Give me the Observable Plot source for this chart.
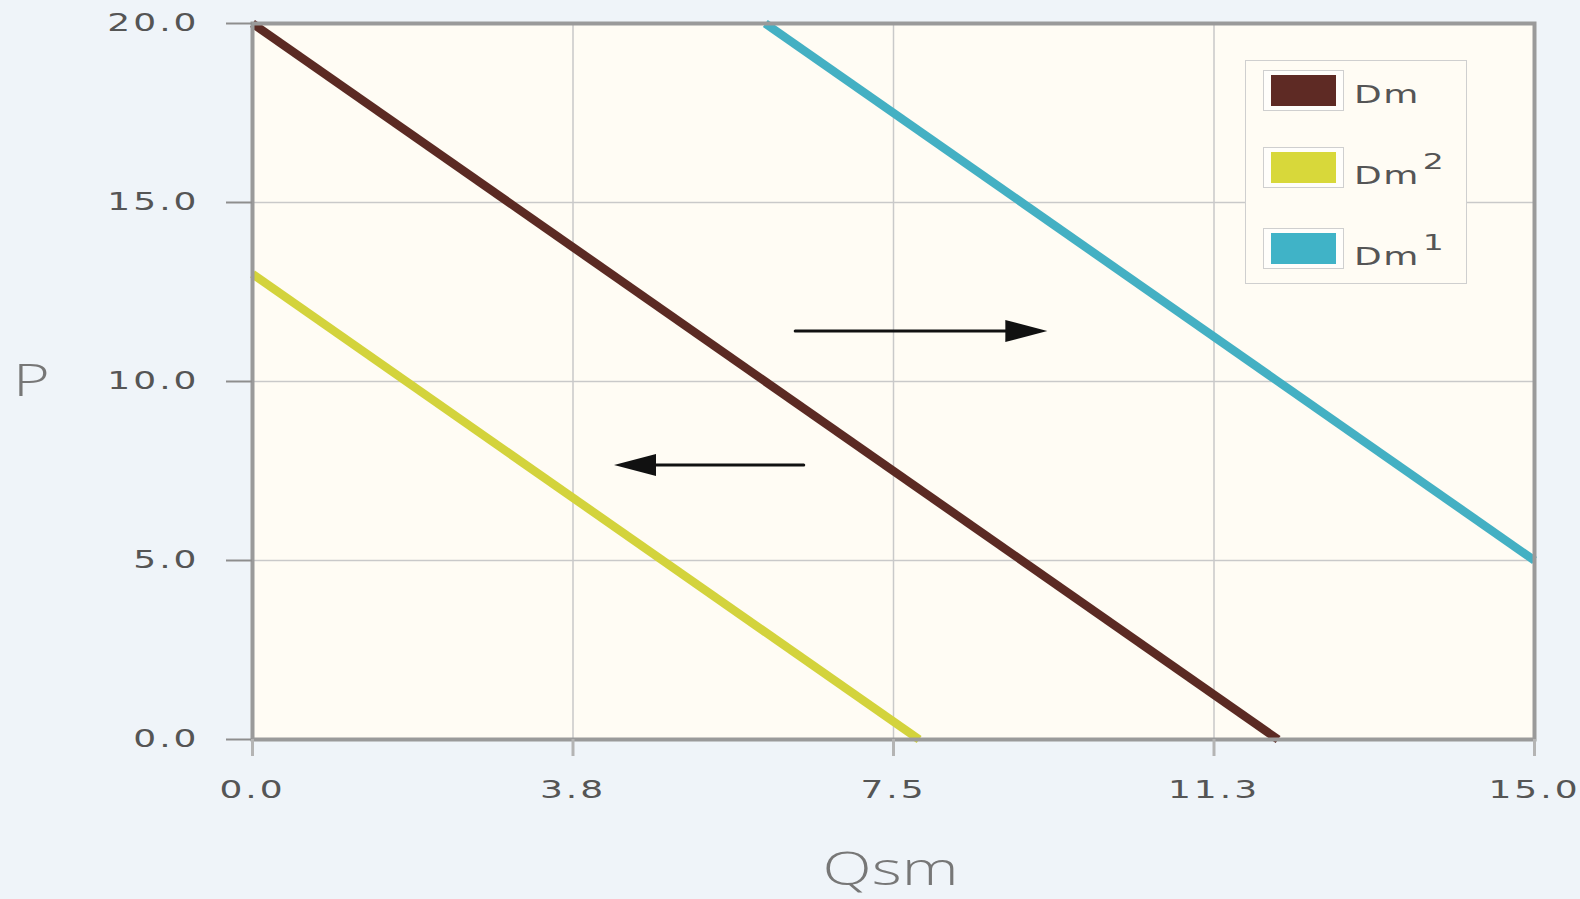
<!DOCTYPE html>
<html>
<head>
<meta charset="utf-8">
<script src="https://cdn.jsdelivr.net/npm/d3@7"></script>
<script src="https://cdn.jsdelivr.net/npm/@observablehq/plot@0.6"></script>
<style>
  html, body { margin: 0; padding: 0; background: #eff4f9; }
  #wrap { position: relative; width: 1580px; height: 899px; overflow: hidden; background: #eff4f9; }
  #wrap svg { position: absolute; left: 0; top: 0; }
  g[aria-label$="tick label"] text { letter-spacing: 2px; }
  g[aria-label="y-axis tick"] { stroke: #8e8e8e !important; }
  g[aria-label="x-axis tick"] { stroke: #b4b4b4 !important; }
  #legend { position: absolute; left: 1245px; top: 60px; width: 222px; height: 224px;
            border: 1px solid #cfcfcf; background: #fffcf4; box-sizing: border-box; }
  .sw { position: absolute; left: 17px; width: 81px; height: 41px; border: 1px solid #cfcfcf;
        box-sizing: border-box; background: #fffefb; }
  .sw div { position: absolute; left: 7px; top: 4px; width: 65px; height: 31px; }
  .lab { position: absolute; left: 108px; font-family: "DejaVu Sans", sans-serif; font-size: 24px;
         line-height: 24px; color: #555; letter-spacing: 1px; transform: scaleX(1.5); transform-origin: left center;
         white-space: nowrap; }
  .lab span { position: relative; top: -15px; font-size: 22px; margin-left: 2px; }
</style>
</head>
<body>
<div id="wrap"></div>
<script>
// ---- data ----
const seriesNames = ["Dm", "Dm2", "Dm1"];
const seriesColors = ["#5b2a23", "#d3d33c", "#44b0c3"];
const dmQ  = [0, 12];   const dmP  = [20, 0];
const dm2Q = [0, 7.8];  const dm2P = [13, 0];
const dm1Q = [6, 15];   const dm1P = [20, 5];

const xTicks = [0, 3.75, 7.5, 11.25, 15];
const xTickLabels = ["0.0", "3.8", "7.5", "11.3", "15.0"];
const yTicks = [0, 5, 10, 15, 20];
const yTickLabels = ["0.0", "5.0", "10.0", "15.0", "20.0"];

const arrowTailQ = [6.35, 6.45];
const arrowTipQ  = [9.30, 4.23];
const arrowP     = [11.41, 7.67];

const legendLabels = ["Dm", "Dm", "Dm"];
const legendSups   = ["", "2", "1"];
const legendColors = ["#5e2a24", "#d8d83a", "#40b3c7"];

// ---- tables ----
const lines = [
  ...dmQ.map((q, i) => ({s: "Dm", q, p: dmP[i]})),
  ...dm2Q.map((q, i) => ({s: "Dm2", q, p: dm2P[i]})),
  ...dm1Q.map((q, i) => ({s: "Dm1", q, p: dm1P[i]}))
];
const arrows = arrowTailQ.map((t, i) => ({x1: t, x2: arrowTipQ[i], y: arrowP[i], dir: arrowTipQ[i] > t ? 1 : -1}));

const headRight = { draw(ctx) { ctx.moveTo(0, 0); ctx.lineTo(-42, -11); ctx.lineTo(-42, 11); ctx.closePath(); } };
const headLeft  = { draw(ctx) { ctx.moveTo(0, 0); ctx.lineTo(42, -11); ctx.lineTo(42, 11); ctx.closePath(); } };

const tickFont = "'DejaVu Sans', sans-serif";
const titleFont = "'Open Sans', 'Lato', sans-serif";

const chart = Plot.plot({
  width: 1580, height: 899,
  marginLeft: 252, marginRight: 46, marginTop: 23, marginBottom: 160,
  style: { background: "transparent", overflow: "visible" },
  x: { domain: [0, 15] },
  y: { domain: [0, 20] },
  color: { domain: seriesNames, range: seriesColors },
  marks: [
    Plot.frame({ fill: "#fffcf4", stroke: null }),
    Plot.gridX(xTicks, { stroke: "#c9c9c9", strokeOpacity: 1, strokeWidth: 1.5 }),
    Plot.gridY(yTicks, { stroke: "#c9c9c9", strokeOpacity: 1, strokeWidth: 1.5 }),
    Plot.line(lines, { x: "q", y: "p", z: "s", stroke: "s", strokeWidth: 8.5, strokeLinecap: "butt" }),
    Plot.arrow(arrows, { x1: "x1", x2: "x2", y1: "y", y2: "y", headLength: 0, insetEnd: 30, stroke: "#111", strokeWidth: 3 }),
    Plot.dot(arrows.filter(d => d.dir > 0), { x: "x2", y: "y", symbol: headRight, fill: "#111", stroke: null }),
    Plot.dot(arrows.filter(d => d.dir < 0), { x: "x2", y: "y", symbol: headLeft, fill: "#111", stroke: null }),
    Plot.frame({ stroke: "#9a9a9a", strokeWidth: 4 }),
    Plot.axisY(yTicks, { tickSize: 26, tickPadding: 27, strokeWidth: 2,
      tickFormat: (d) => yTickLabels[yTicks.indexOf(d)], fontSize: 24, fontFamily: tickFont, color: "#555", label: null }),
    Plot.axisX(xTicks, { tickSize: 17, tickPadding: 24, strokeWidth: 3,
      tickFormat: (d) => xTickLabels[xTicks.indexOf(d)], fontSize: 24, fontFamily: tickFont, color: "#555", label: null }),
    Plot.text(["P"], { frameAnchor: "left", dx: -221, text: d => d, fontSize: 45, fontWeight: 300,
      fontFamily: titleFont, fill: "#777", textAnchor: "middle", lineAnchor: "middle" }),
    Plot.text(["Qsm"], { frameAnchor: "bottom", dy: 131, dx: -3, text: d => d, fontSize: 46, fontWeight: 300,
      fontFamily: titleFont, fill: "#777", textAnchor: "middle", lineAnchor: "middle" })
  ]
});

// horizontally stretch text around its anchor point (keeps existing transform / y offsets)
function stretch(nodes, s) {
  nodes.forEach(t => {
    const tr = t.getAttribute("transform") || "";
    const xa = parseFloat(t.getAttribute("x"));
    const x = isFinite(xa) ? xa : 0;
    if (t.hasAttribute("x")) t.setAttribute("x", 0);
    t.setAttribute("transform", `${tr} translate(${x},0) scale(${s},1)`.trim());
  });
}
stretch(chart.querySelectorAll('g[aria-label$="tick label"] text'), 1.5);
stretch(chart.querySelectorAll('g[aria-label="text"] text'), 1.4);

const wrap = document.getElementById("wrap");
wrap.appendChild(chart);

// legend
const legend = document.createElement("div");
legend.id = "legend";
const rowTops = [9, 86, 167];
legendLabels.forEach((lab, i) => {
  const sw = document.createElement("div");
  sw.className = "sw";
  sw.style.top = rowTops[i] + "px";
  const inner = document.createElement("div");
  inner.style.background = legendColors[i];
  sw.appendChild(inner);
  legend.appendChild(sw);
  const l = document.createElement("div");
  l.className = "lab";
  l.style.top = (rowTops[i] + (legendSups[i] ? 16.5 : 12.5)) + "px";
  l.textContent = lab;
  if (legendSups[i]) {
    const sp = document.createElement("span");
    sp.textContent = legendSups[i];
    l.appendChild(sp);
  }
  legend.appendChild(l);
});
wrap.appendChild(legend);
</script>
</body>
</html>
